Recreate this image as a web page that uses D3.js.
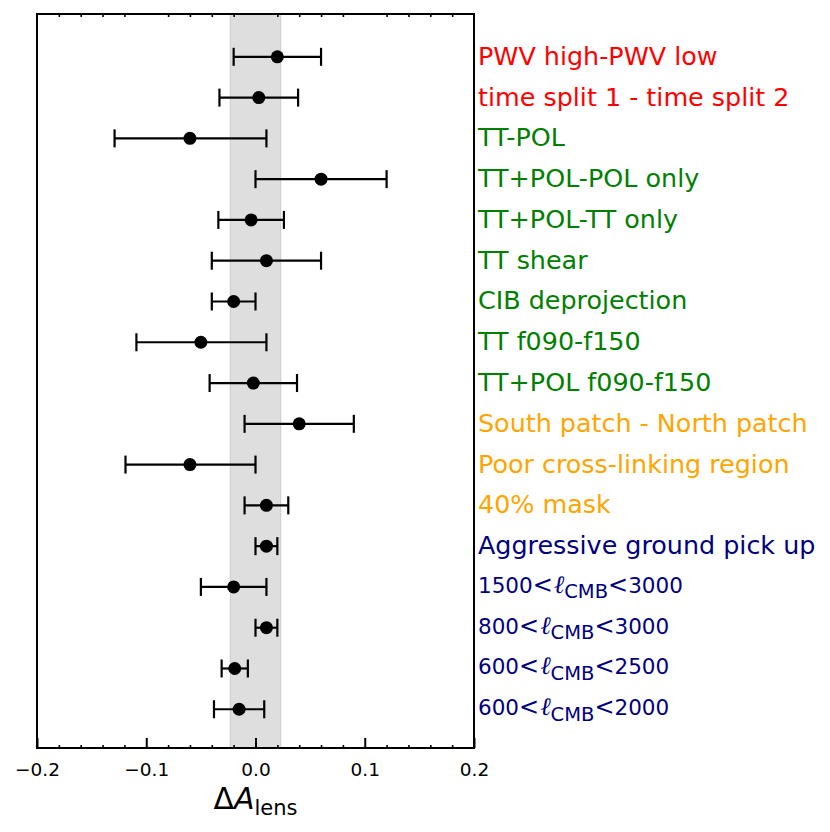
<!DOCTYPE html>
<html>
<head>
<meta charset="utf-8">
<script src="https://cdn.jsdelivr.net/npm/d3@7"></script>
<style>
  body { margin: 0; background: #fff; }
  text { font-family: "DejaVu Sans", sans-serif; }
</style>
</head>
<body>
<div class="chart"></div>
<script>
var W = 830, H = 832
var margin = {top: 14, right: 356, bottom: 84, left: 37}
var width = W - margin.left - margin.right
var height = H - margin.top - margin.bottom

// null tests, top to bottom
var labels = [
  'PWV high-PWV low',
  'time split 1 - time split 2',
  'TT-POL',
  'TT+POL-POL only',
  'TT+POL-TT only',
  'TT shear',
  'CIB deprojection',
  'TT f090-f150',
  'TT+POL f090-f150',
  'South patch - North patch',
  'Poor cross-linking region',
  '40% mask',
  'Aggressive ground pick up',
  '1500<ℓ_CMB<3000',
  '800<ℓ_CMB<3000',
  '600<ℓ_CMB<2500',
  '600<ℓ_CMB<2000'
]
var groups = ['red', 'red', 'green', 'green', 'green', 'green', 'green', 'green', 'green',
  'orange', 'orange', 'orange', 'navy', 'navy', 'navy', 'navy', 'navy']
var groupColors = {red: '#ff0000', green: '#008000', orange: '#ffa500', navy: '#000080'}

var centers = [0.020, 0.003, -0.060, 0.060, -0.004, 0.010, -0.020, -0.050, -0.002,
  0.040, -0.060, 0.010, 0.010, -0.020, 0.010, -0.019, -0.015]
var lows = [-0.020, -0.033, -0.129, 0.000, -0.034, -0.040, -0.040, -0.109, -0.042,
  -0.010, -0.119, -0.010, 0.000, -0.050, 0.000, -0.031, -0.038]
var highs = [0.060, 0.039, 0.010, 0.120, 0.026, 0.060, 0.000, 0.010, 0.038,
  0.090, 0.000, 0.030, 0.020, 0.010, 0.020, -0.007, 0.008]

var band = [-0.023, 0.023]
var xTicks = [-0.2, -0.1, 0.0, 0.1, 0.2]

var rows = labels.map(function(d, i) {
  return {label: d, group: groups[i], c: centers[i], lo: lows[i], hi: highs[i], i: i}
})

var svg = d3.select('.chart')
  .append('svg')
  .attr('width', W)
  .attr('height', H)

var g = svg.append('g')
  .attr('transform', 'translate(' + margin.left + ',' + margin.top + ')')

var x = d3.scaleLinear().domain([-0.2, 0.2]).range([0, width])
var y = d3.scaleLinear().domain([-1.05, 16.95]).range([0, height])

// shaded band
g.append('rect')
  .attr('x', x(band[0]))
  .attr('y', 0)
  .attr('width', x(band[1]) - x(band[0]))
  .attr('height', height)
  .attr('fill', '#dedede')
  .attr('stroke', '#cfcfcf')
  .attr('stroke-width', 1.2)

// error bars
var bars = g.selectAll('.bar')
  .data(rows)
  .enter().append('g')
  .attr('class', 'bar')

bars.append('line')
  .attr('x1', function(d) { return x(d.lo) })
  .attr('x2', function(d) { return x(d.hi) })
  .attr('y1', function(d) { return y(d.i) })
  .attr('y2', function(d) { return y(d.i) })
  .attr('stroke', 'black')
  .attr('stroke-width', 2.2)

bars.selectAll('.cap')
  .data(function(d) { return [{v: d.lo, i: d.i}, {v: d.hi, i: d.i}] })
  .enter().append('line')
  .attr('class', 'cap')
  .attr('x1', function(d) { return x(d.v) })
  .attr('x2', function(d) { return x(d.v) })
  .attr('y1', function(d) { return y(d.i) - 9 })
  .attr('y2', function(d) { return y(d.i) + 9 })
  .attr('stroke', 'black')
  .attr('stroke-width', 2.2)

bars.append('circle')
  .attr('cx', function(d) { return x(d.c) })
  .attr('cy', function(d) { return y(d.i) })
  .attr('r', 6.5)
  .attr('fill', 'black')

// bottom axis with major + minor ticks pointing inward
var minor = d3.range(-0.18, 0.2, 0.02).filter(function(v) {
  return Math.abs(Math.round(v * 10) - v * 10) > 0.01
})

var bottomMinor = g.append('g')
  .attr('transform', 'translate(0,' + height + ')')
  .call(d3.axisBottom(x).tickValues(minor).tickSize(-3).tickFormat(''))
bottomMinor.select('.domain').remove()
bottomMinor.selectAll('line').attr('stroke-width', 1.6)

var bottomMajor = g.append('g')
  .attr('transform', 'translate(0,' + height + ')')
  .call(d3.axisBottom(x).tickValues(xTicks).tickSize(-10).tickPadding(15)
    .tickFormat(function(d) { return d3.format('.1f')(d).replace('-', '\u2212') }))
bottomMajor.select('.domain').remove()
bottomMajor.selectAll('line').attr('stroke-width', 2)
bottomMajor.selectAll('text')
  .attr('font-size', 18.5)
  .attr('font-family', 'DejaVu Sans')
  .attr('fill', 'black')

var topMinor = g.append('g')
  .call(d3.axisTop(x).tickValues(minor).tickSize(-3).tickFormat(''))
topMinor.select('.domain').remove()
topMinor.selectAll('line').attr('stroke-width', 1.6)

// frame
g.append('rect')
  .attr('width', width)
  .attr('height', height)
  .attr('fill', 'none')
  .attr('stroke', 'black')
  .attr('stroke-width', 2)

// x label
var xl = g.append('text')
  .attr('x', x(0))
  .attr('y', height + 61)
  .attr('text-anchor', 'middle')
  .attr('font-size', 30)
xl.append('tspan').text('\u0394')
xl.append('tspan').attr('font-style', 'italic').text('A')
xl.append('tspan').attr('font-size', 21).attr('dy', 6).text('lens')

// row labels on the right
var lab = g.selectAll('.lab')
  .data(rows)
  .enter().append('text')
  .attr('class', 'lab')
  .attr('x', width + 4)
  .attr('y', function(d) { return y(d.i) + 8 })
  .attr('font-size', 25.4)
  .attr('fill', function(d) { return groupColors[d.group] })

lab.each(function(d) {
  var t = d3.select(this)
  if (d.label.indexOf('ℓ_CMB') < 0) {
    t.text(d.label)
    return
  }
  var parts = d.label.split('ℓ_CMB')
  var lo = parts[0].split('<')[0]
  var hi = parts[1].split('<')[1]
  t.attr('font-size', 21.5).attr('y', y(d.i) + 6)
  t.append('tspan').text(lo)
  t.append('tspan').attr('font-size', 24).text('<')
  t.append('tspan').attr('dx', 1).attr('font-size', 25)
    .attr('font-style', 'italic').attr('font-family', 'DejaVu Serif').text('ℓ')
  t.append('tspan').attr('font-size', 19.5).attr('dy', 5.5).text('CMB')
  t.append('tspan').attr('font-size', 24).attr('dy', -5.5).text('<')
  t.append('tspan').text(hi)
})
</script>
</body>
</html>
